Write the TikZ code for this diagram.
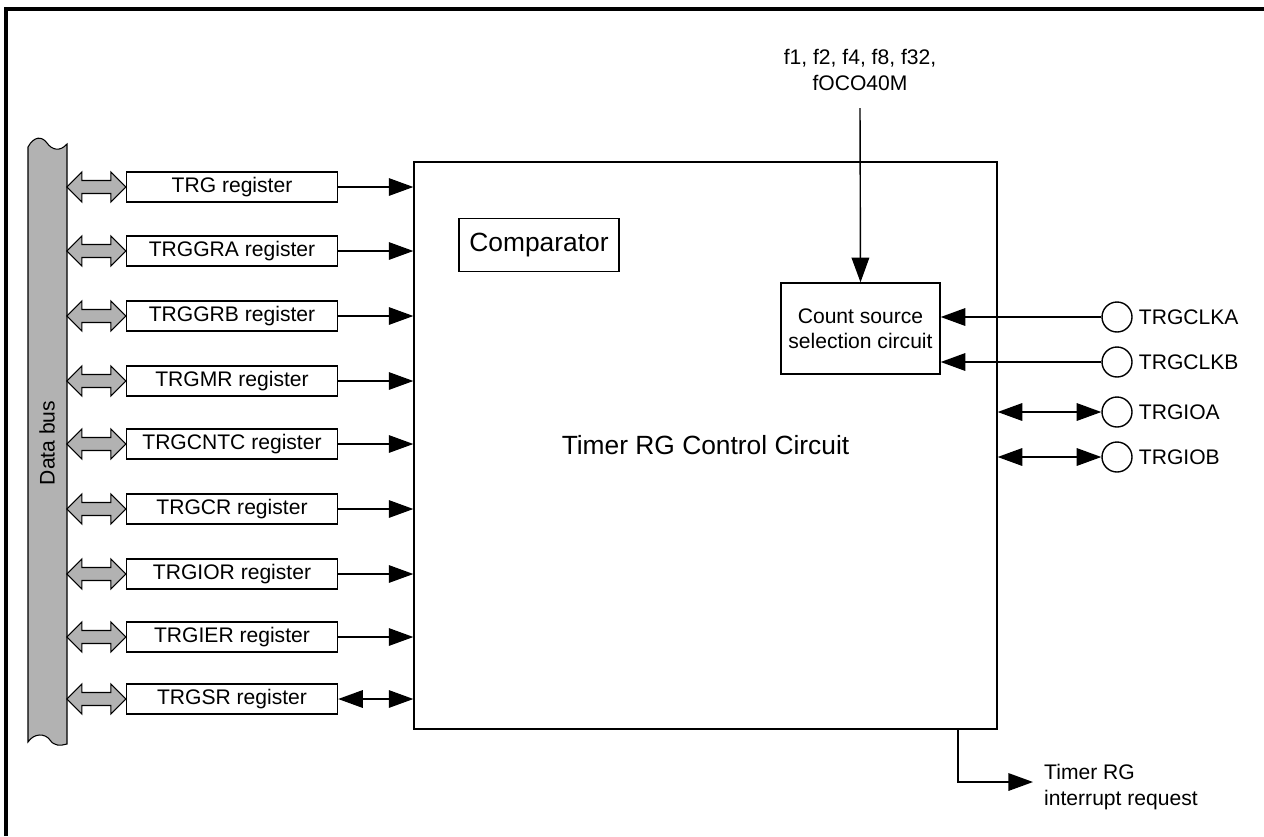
\documentclass[tikz,border=0pt]{standalone}
\usepackage{fontspec}
\setmainfont{Liberation Sans}
\usetikzlibrary{positioning, arrows.meta}

\begin{document}
\begin{tikzpicture}[
    x=0.02cm, y=-0.02cm,
    every node/.style={font=\fontsize{12}{14.4}\selectfont},
    box/.style={draw, line width=0.8pt, align=center},
    reg/.style={box, minimum width=4.22cm, minimum height=0.6cm, inner sep=0pt},
    pin/.style={draw, circle, line width=0.8pt, minimum size=0.6cm, inner sep=0pt},
    arrow/.style={-{Triangle[length=14pt, width=10pt]}, line width=0.8pt},
    dblarrow/.style={{Triangle[length=14pt, width=10pt]}-{Triangle[length=14pt, width=10pt]}, line width=0.8pt},
    bus/.style={draw, line width=0.6pt, fill=gray!60},
    frame/.style={line width=2.2pt}
]
    \useasboundingbox (0,0) rectangle (1264,836);

    % --- outer frame (top and left only) ---
    \draw[frame] (6,836) -- (6,9) -- (1264,9);

    % ==========================================
    % Data bus
    % ==========================================
    \draw[bus] (28,147) .. controls (34,136) and (42,136) .. (47,143)
        .. controls (52,150) and (60,152) .. (67,144) -- (67,744)
        .. controls (60,746) and (54,746) .. (50,740)
        .. controls (45,733) and (34,733) .. (28,742) -- cycle;
    \node[rotate=90] (databus) at (47,443) {Data bus};

    % ==========================================
    % Registers
    % ==========================================
    \node[reg] (reg_trg)  at (232,187) {TRG register};
    \node[reg] (reg_gra)  at (232,251) {TRGGRA register};
    \node[reg] (reg_grb)  at (232,316) {TRGGRB register};
    \node[reg] (reg_mr)   at (232,381) {TRGMR register};
    \node[reg] (reg_cntc) at (232,444) {TRGCNTC register};
    \node[reg] (reg_cr)   at (232,509) {TRGCR register};
    \node[reg] (reg_ior)  at (232,574) {TRGIOR register};
    \node[reg] (reg_ier)  at (232,637) {TRGIER register};
    \node[reg] (reg_sr)   at (232,699) {TRGSR register};

    % bus <-> register block arrows
    \foreach \r in {reg_trg, reg_gra, reg_grb, reg_mr, reg_cntc, reg_cr, reg_ior, reg_ier, reg_sr} {
        \begin{scope}[shift={(\r.west)}]
            \draw[bus] (0,0) -- (-15,-15) -- (-15,-6.5) -- (-44,-6.5) -- (-44,-15) -- (-59,0)
                -- (-44,15) -- (-44,6.5) -- (-15,6.5) -- (-15,15) -- cycle;
        \end{scope}
    }

    % ==========================================
    % Control circuit
    % ==========================================
    \node[box, minimum width=11.66cm, minimum height=11.34cm, font=\fontsize{15}{18}\selectfont] (ctrl) at (705.5,445.5) {Timer RG Control Circuit};
    \node[box, minimum width=3.2cm, minimum height=1.06cm, font=\fontsize{15}{18}\selectfont] (comp) at (539,245) {Comparator};
    \node[box, minimum width=3.18cm, minimum height=1.82cm] (cnt) at (860.5,328.5) {Count source\\selection circuit};

    % register -> control arrows
    \foreach \r in {reg_trg, reg_gra, reg_grb, reg_mr, reg_cntc, reg_cr, reg_ior, reg_ier}
        \draw[arrow] (\r.east) -- (ctrl.west |- \r.east);
    \draw[dblarrow] (reg_sr.east) -- (ctrl.west |- reg_sr.east);

    % --- clock sources ---
    \node[align=center] (clk_src) at (860,70) {f1, f2, f4, f8, f32,\\fOCO40M};
    \coordinate (clk_in) at (860,108);
    \draw[arrow] (clk_in) -- (cnt.north);

    % ==========================================
    % Pins
    % ==========================================
    \node[pin] (pin_clka) at (1117,317) {};
    \node[pin] (pin_clkb) at (1117,362) {};
    \node[pin] (pin_ioa)  at (1117,412) {};
    \node[pin] (pin_iob)  at (1117,457) {};
    \node[anchor=west] (lbl_clka) at (pin_clka.east) {TRGCLKA};
    \node[anchor=west] (lbl_clkb) at (pin_clkb.east) {TRGCLKB};
    \node[anchor=west] (lbl_ioa)  at (pin_ioa.east) {TRGIOA};
    \node[anchor=west] (lbl_iob)  at (pin_iob.east) {TRGIOB};

    \draw[arrow] (pin_clka.west) -- (cnt.east |- pin_clka);
    \draw[arrow] (pin_clkb.west) -- (cnt.east |- pin_clkb);
    \draw[dblarrow] (ctrl.east |- pin_ioa) -- (pin_ioa.west);
    \draw[dblarrow] (ctrl.east |- pin_iob) -- (pin_iob.west);

    % --- interrupt request ---
    \coordinate (irq_tap) at (958,729);
    \coordinate (irq_out) at (1033,782);
    \node[anchor=west, align=left] (irq) at (1038,787) {Timer RG\\ interrupt request};
    \draw[arrow] (irq_tap) |- (irq_out);
\end{tikzpicture}
\end{document}
